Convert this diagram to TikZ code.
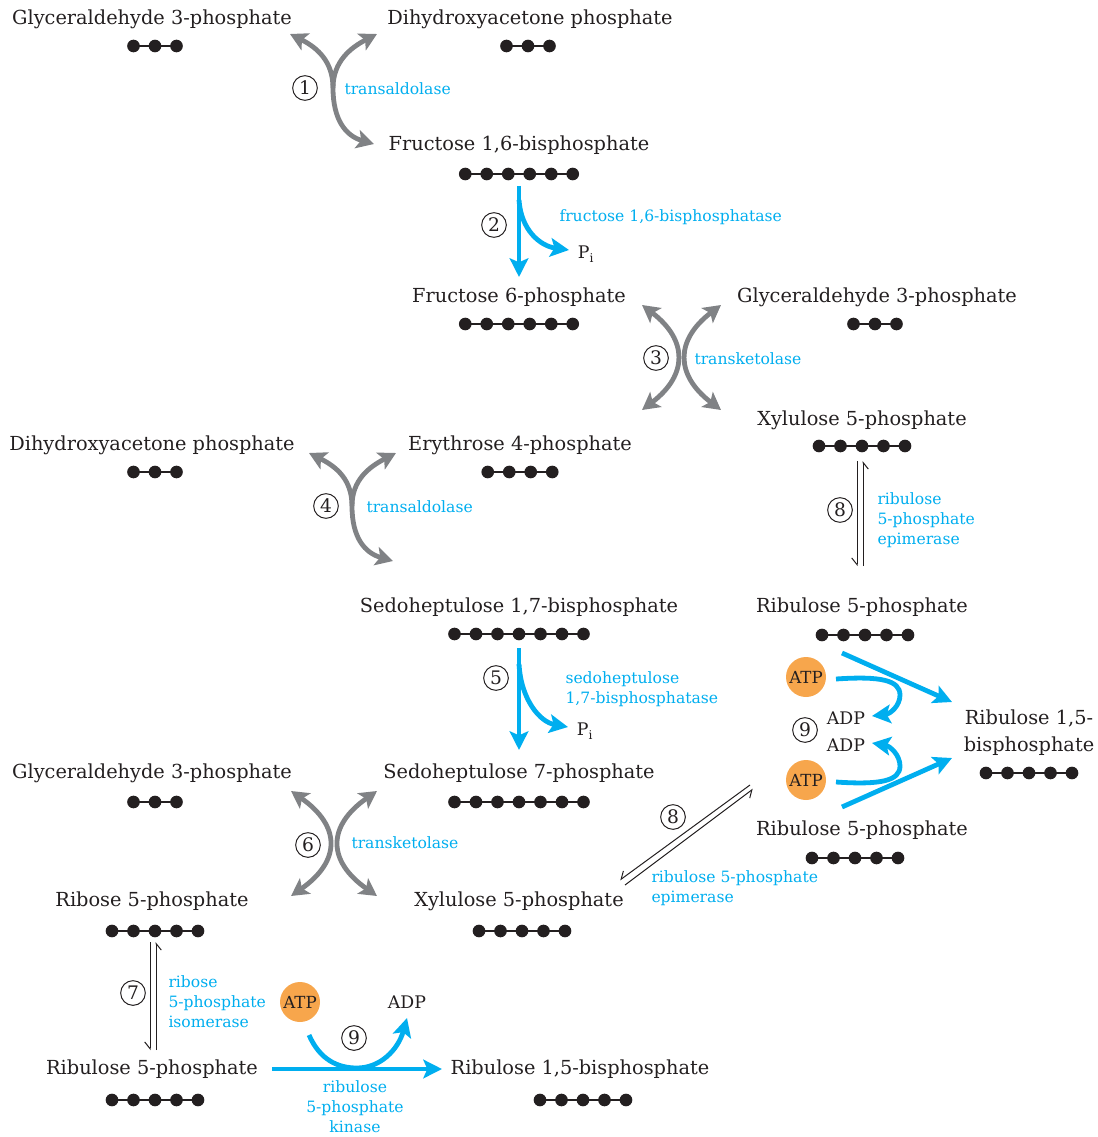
\documentclass[tikz,border=0pt]{standalone}
\usepackage{fontspec}
\setmainfont{DejaVu Serif}
\usepackage{xcolor}
\usepackage{tikz}
\usetikzlibrary{arrows.meta}
\tikzset{every picture/.style={line width=0.75pt}}

\definecolor{ink}{RGB}{35,31,32}
\definecolor{enzcyan}{RGB}{0,174,239}
\definecolor{arrgray}{RGB}{128,130,133}
\definecolor{atporange}{RGB}{247,166,76}

\tikzset{
  graytip/.tip={Stealth[length=13pt, width=14pt, inset=3pt]},
  bluetip/.tip={Stealth[length=14pt, width=14pt, inset=3pt]},
  mol/.style={font=\fontsize{14.5}{20}\selectfont, text=ink, inner sep=0pt, align=center, yshift=-1.2pt},
  enz/.style={font=\fontsize{11.7}{15}\selectfont, text=enzcyan, inner sep=0pt, align=left, anchor=west},
  stepno/.style={circle, draw=ink, line width=0.75pt, inner sep=0pt, minimum size=18.5pt, font=\fontsize{14}{14}\selectfont, text=ink},
  carbon/.style={circle, fill=ink, inner sep=0pt, minimum size=9.5pt},
  atp/.style={circle, fill=atporange, inner sep=0pt, minimum size=30pt, font=\fontsize{12.5}{13}\selectfont, text=ink},
  small/.style={font=\fontsize{13}{15}\selectfont, text=ink, inner sep=0pt},
  grayarr/.style={draw=arrgray, line width=3.6pt, -graytip},
  grayboth/.style={draw=arrgray, line width=3.6pt, graytip-graytip},
  bluearr/.style={draw=enzcyan, line width=3.6pt, -bluetip},
  eqarr/.style={draw=ink, line width=0.75pt, -{Straight Barb[right, length=5pt, width=8pt]}},
}

% carbon skeleton: name, number of carbons, centre x, y
\newcommand{\carbons}[4]{%
  \pgfmathsetmacro{\chainhalf}{(#2-1)*21.5/2}
  \foreach \k in {1,...,#2}
    \node[carbon] (#1-\k) at ({#3-\chainhalf+(\k-1)*21.5},#4) {};
  \draw[ink, line width=1pt] (#1-1.center) -- (#1-#2.center);
}

\begin{document}
\begin{tikzpicture}[x=0.75pt,y=0.75pt,yscale=-1,xscale=1]
    \useasboundingbox (0,0) rectangle (1097,1137);

    % compounds
    \node[mol] (gap1) at (152,18) {Glyceraldehyde 3-phosphate};
    \node[mol] (dhap1) at (530,18) {Dihydroxyacetone phosphate};
    \node[mol] (fbp) at (519,144) {Fructose 1,6-bisphosphate};
    \node[mol] (f6p) at (519,296) {Fructose 6-phosphate};
    \node[mol] (gap2) at (877,296) {Glyceraldehyde 3-phosphate};
    \node[mol] (xu5pa) at (862,419) {Xylulose 5-phosphate};
    \node[mol] (dhap2) at (152,444) {Dihydroxyacetone phosphate};
    \node[mol] (e4p) at (520,444) {Erythrose 4-phosphate};
    \node[mol] (sbp) at (519,606) {Sedoheptulose 1,7-bisphosphate};
    \node[mol] (ru5pa) at (862,606) {Ribulose 5-phosphate};
    \node[mol] (rubpa) at (1029,731) {Ribulose 1,5-\\bisphosphate};
    \node[mol] (ru5pb) at (862,829) {Ribulose 5-phosphate};
    \node[mol] (gap3) at (152,772) {Glyceraldehyde 3-phosphate};
    \node[mol] (s7p) at (519,772) {Sedoheptulose 7-phosphate};
    \node[mol] (r5p) at (152,900) {Ribose 5-phosphate};
    \node[mol] (xu5pb) at (519,900) {Xylulose 5-phosphate};
    \node[mol] (ru5pc) at (152,1068) {Ribulose 5-phosphate};
    \node[mol] (rubpb) at (580,1068) {Ribulose 1,5-bisphosphate};

    % carbon chains
    \carbons{cgap1}{3}{155}{46}
    \carbons{cdhap1}{3}{528}{46}
    \carbons{cfbp}{6}{519}{174}
    \carbons{cf6p}{6}{519}{324}
    \carbons{cgap2}{3}{875}{324}
    \carbons{cxu5pa}{5}{862}{446}
    \carbons{cdhap2}{3}{155}{472}
    \carbons{ce4p}{4}{520}{472}
    \carbons{csbp}{7}{519}{634}
    \carbons{cru5pa}{5}{865}{635}
    \carbons{crubpa}{5}{1029}{773}
    \carbons{cru5pb}{5}{855}{858}
    \carbons{cgap3}{3}{155}{802}
    \carbons{cs7p}{7}{519}{802}
    \carbons{cr5p}{5}{155}{931}
    \carbons{cxu5pb}{5}{522}{931}
    \carbons{cru5pc}{5}{155}{1100}
    \carbons{crubpb}{5}{583}{1100}

    % step numbers
    \node[stepno] (s1) at (305,88) {1};
    \node[stepno] (s2) at (494,225) {2};
    \node[stepno] (s3) at (656,358) {3};
    \node[stepno] (s4) at (326,506) {4};
    \node[stepno] (s8a) at (840,510) {8};
    \node[stepno] (s5) at (496,678) {5};
    \node[stepno] (s9a) at (805,730) {9};
    \node[stepno] (s6) at (308,845) {6};
    \node[stepno] (s8b) at (673,817) {8};
    \node[stepno] (s7) at (133,993) {7};
    \node[stepno] (s9b) at (354,1038) {9};

    % enzymes
    \node[enz] (e1) at (344,89) {transaldolase};
    \node[enz] (e2) at (559,217) {fructose 1,6-bisphosphatase};
    \node[enz] (e3) at (694,359) {transketolase};
    \node[enz] (e4) at (366,507) {transaldolase};
    \node[enz] (e8a) at (877,520) {ribulose\\5-phosphate\\epimerase};
    \node[enz] (e5) at (565,689) {sedoheptulose\\1,7-bisphosphatase};
    \node[enz] (e6) at (351,843) {transketolase};
    \node[enz] (e8b) at (651,888) {ribulose 5-phosphate\\epimerase};
    \node[enz] (e7) at (168,1002) {ribose\\5-phosphate\\isomerase};
    \node[enz, anchor=center, align=center] (e9) at (355,1107) {ribulose\\5-phosphate\\kinase};

    % small species
    \node[small] (pi1) at (586,254) {P\textsubscript{i}};
    \node[small] (pi2) at (585,731) {P\textsubscript{i}};
    \node[atp] (atpa) at (806,677) {ATP};
    \node[atp] (atpb) at (806,780) {ATP};
    \node[atp] (atpc) at (300,1002) {ATP};
    \node[small] (adpa) at (846,718) {ADP};
    \node[small] (adpb) at (846,745) {ADP};
    \node[small] (adpc) at (407,1002) {ADP};

    % step 1
    \coordinate (a1m) at (333,88);
    \coordinate (a1tl) at (290,34);
    \coordinate (a1tr) at (377,34);
    \coordinate (a1b) at (374,144);
    \draw[grayarr] (a1m) .. controls (333,120) and (346,136) .. (a1b);
    \draw[grayarr] (a1m) .. controls (333,62) and (318,48) .. (a1tl);
    \draw[grayarr] (a1m) .. controls (333,62) and (350,48) .. (a1tr);

    % step 2
    \coordinate (a2s) at (519,186);
    \coordinate (a2e) at (519,277);
    \coordinate (a2p) at (569,250);
    \draw[bluearr] (a2s) -- (a2e);
    \draw[bluearr] (519,200) .. controls (521,230) and (540,246) .. (a2p);

    % step 3
    \coordinate (a3tl) at (642,305);
    \coordinate (a3bl) at (642,410);
    \coordinate (a3tr) at (721,305);
    \coordinate (a3br) at (721,410);
    \draw[grayboth] (a3tl) .. controls (688,340) and (688,375) .. (a3bl);
    \draw[grayboth] (a3tr) .. controls (675,340) and (675,375) .. (a3br);

    % step 4
    \coordinate (a4m) at (352,506);
    \coordinate (a4tl) at (309,453);
    \coordinate (a4tr) at (396,453);
    \coordinate (a4b) at (393,561);
    \draw[grayarr] (a4m) .. controls (352,538) and (365,553) .. (a4b);
    \draw[grayarr] (a4m) .. controls (352,480) and (337,467) .. (a4tl);
    \draw[grayarr] (a4m) .. controls (352,480) and (369,467) .. (a4tr);

    % step 8, upper
    \draw[eqarr] (857,461) -- (857,566);
    \draw[eqarr] (863,566) -- (863,461);

    % step 5
    \coordinate (a5s) at (519,648);
    \coordinate (a5e) at (519,750);
    \coordinate (a5p) at (568,727);
    \draw[bluearr] (a5s) -- (a5e);
    \draw[bluearr] (519,664) .. controls (521,700) and (540,722) .. (a5p);

    % step 9, right
    \draw[bluearr] (842,653) -- (952,702);
    \draw[bluearr] (836,679) .. controls (880,676) and (900,680) .. (900,695) .. controls (900,706) and (890,714) .. (872,716);
    \draw[bluearr] (836,782) .. controls (880,785) and (900,781) .. (900,766) .. controls (900,755) and (890,746) .. (872,743);
    \draw[bluearr] (842,807) -- (952,758);

    % step 6
    \coordinate (a6tl) at (291,791);
    \coordinate (a6bl) at (291,896);
    \coordinate (a6tr) at (377,791);
    \coordinate (a6br) at (377,896);
    \draw[grayboth] (a6tl) .. controls (341,826) and (341,861) .. (a6bl);
    \draw[grayboth] (a6tr) .. controls (327,826) and (327,861) .. (a6br);

    % step 8, diagonal
    \draw[eqarr] (750,785) -- (620,880);
    \draw[eqarr] (625,885) -- (753,789);

    % step 7
    \draw[eqarr] (150,942) -- (150,1050);
    \draw[eqarr] (156,1050) -- (156,942);

    % step 9, bottom
    \draw[bluearr] (272,1069) -- (442,1069);
    \draw[bluearr] (309,1035) .. controls (320,1060) and (338,1068) .. (357,1068) .. controls (380,1068) and (398,1050) .. (407,1018);
\end{tikzpicture}
\end{document}
